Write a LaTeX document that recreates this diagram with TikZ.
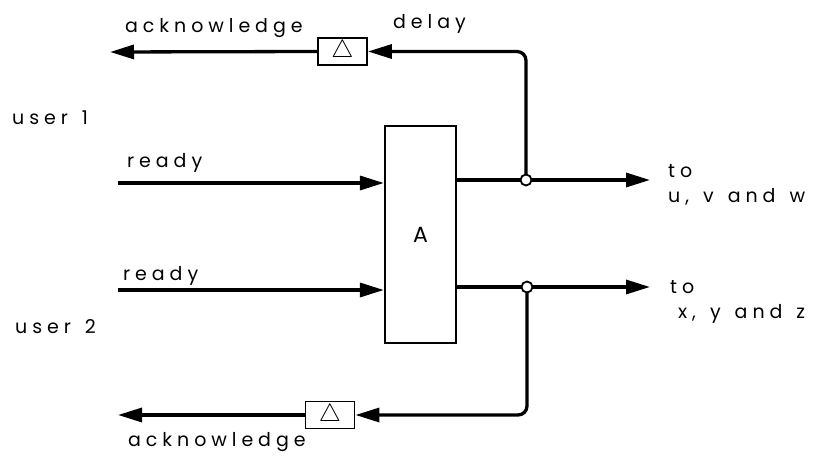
\documentclass[tikz,border=0pt]{standalone}
\usepackage{fontspec}
\setmainfont{Poppins}[LetterSpace=26,WordSpace=1.4]
\usetikzlibrary{arrows.meta}
\tikzset{
  sig/.style={line width=3.3pt,-{Triangle[length=24pt,width=14pt]}},
  wire/.style={line width=3.3pt},
  lbl/.style={anchor=base west,inner sep=0pt,font=\fontsize{19}{22}\selectfont},
  dly/.style={draw,line width=1.8pt,minimum width=49pt,minimum height=27pt,inner sep=0pt,font=\fontsize{28}{28}\selectfont},
  jn/.style={circle,draw,fill=white,line width=1.8pt,minimum size=11pt,inner sep=0pt}
}
\begin{document}
\begin{tikzpicture}[x=1pt,y=-1pt]
\useasboundingbox (0,0) rectangle (827,465);
% the block A and its two delays
\node[draw,line width=2.2pt,minimum width=71pt,minimum height=217pt,inner sep=0pt,font=\fontsize{22}{22}\selectfont] (A) at (420.5,234.5) {A};
\node[dly] (d1) at (342.5,51.5) {$\triangle$};
\node[dly] (d2) at (330,415) {$\triangle$};
% end points
\coordinate (in1) at (118,183);\coordinate (in2) at (118,290);
\coordinate (j1) at (526,180);\coordinate (j2) at (527,287);
\coordinate (out1) at (650,180);\coordinate (out2) at (650,287);
\coordinate (ack1) at (110,52);\coordinate (ack2) at (118,415);
% inputs
\draw[sig] (in1)--(A.west |- in1);\draw[sig] (in2)--(A.west |- in2);
% outputs
\draw[wire] (A.east |- j1)--(j1);\draw[sig] (j1)--(out1);
\draw[wire] (A.east |- j2)--(j2);\draw[sig] (j2)--(out2);
% acknowledge loops
\draw[sig,rounded corners=9pt] (j1)|-(d1.east);\draw[sig] (d1.west)--(ack1);
\draw[sig,rounded corners=9pt] (j2)|-(d2.east);\draw[sig] (d2.west)--(ack2);
\node[jn] (c1) at (j1){};\node[jn] (c2) at (j2){};
% labels
\node[lbl] (tack1) at (125,33){acknowledge};
\node[lbl] (tdelay) at (393,29){delay};
\node[lbl] (tuser1) at (12,125){user 1};
\node[lbl] (trdy1) at (127,168){ready};
\node[lbl] (trdy2) at (123,280){ready};
\node[lbl] (tuser2) at (15,333){user 2};
\node[lbl] (tack2) at (128,446){acknowledge};
\node[lbl] (tto1) at (668,178){to};
\node[lbl] (tuvw) at (668,203){u, v and w};
\node[lbl] (tto2) at (670,293){to};
\node[lbl] (txyz) at (678,318){x, y and z};
\end{tikzpicture}
\end{document}
